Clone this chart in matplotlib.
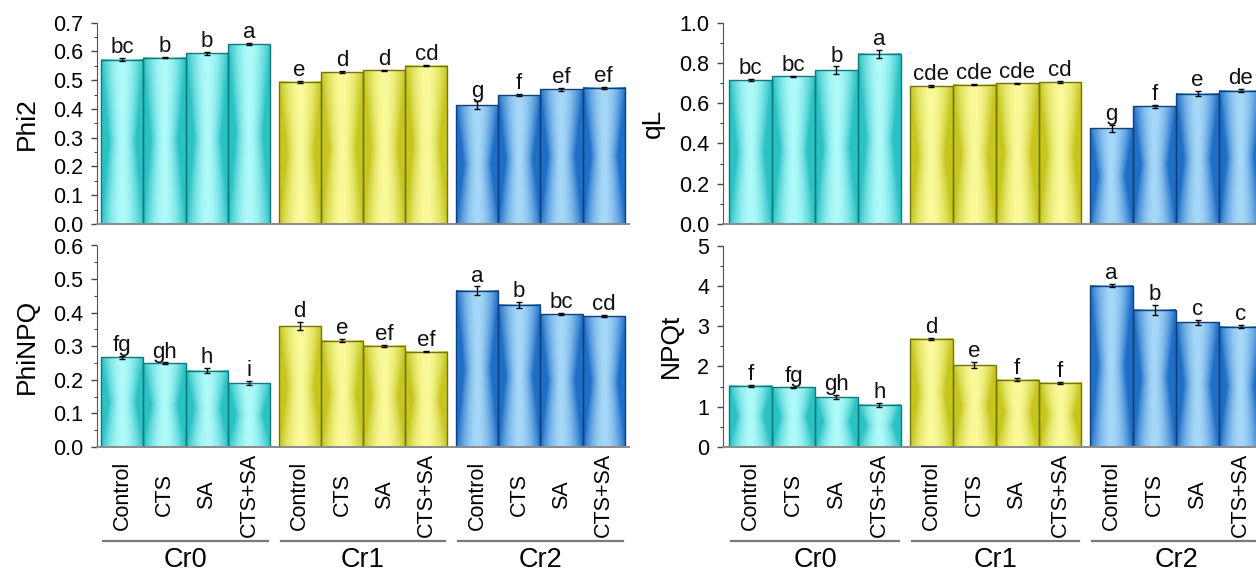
import matplotlib
matplotlib.use("Agg")
import matplotlib.pyplot as plt
import matplotlib.ticker as ticker
import matplotlib.transforms as mtransforms
import numpy as np

plt.rcParams["font.family"] = ["Liberation Sans", "DejaVu Sans"]

# ── Data ───────────────────────────────────────────────────────────────────────
GROUPS = ["Cr0", "Cr1", "Cr2"]
TREATMENTS = ["Control", "CTS", "SA", "CTS+SA"]

phi2 = [0.572, 0.578, 0.593, 0.625,
        0.495, 0.528, 0.535, 0.551,
        0.413, 0.448, 0.468, 0.473]
phi2_err = [0.005, 0.002, 0.006, 0.004,
            0.003, 0.003, 0.002, 0.001,
            0.013, 0.003, 0.004, 0.004]
phi2_sig = ["bc", "b", "b", "a", "e", "d", "d", "cd", "g", "f", "ef", "ef"]

ql = [0.715, 0.733, 0.765, 0.845,
      0.685, 0.692, 0.698, 0.705,
      0.475, 0.585, 0.648, 0.662]
ql_err = [0.004, 0.003, 0.018, 0.020,
          0.004, 0.003, 0.003, 0.004,
          0.018, 0.008, 0.014, 0.008]
ql_sig = ["bc", "bc", "b", "a", "cde", "cde", "cde", "cd", "g", "f", "e", "de"]

phinpq = [0.267, 0.249, 0.227, 0.190,
          0.360, 0.317, 0.301, 0.284,
          0.466, 0.424, 0.396, 0.389]
phinpq_err = [0.004, 0.003, 0.008, 0.006,
              0.012, 0.005, 0.002, 0.002,
              0.012, 0.009, 0.003, 0.003]
phinpq_sig = ["fg", "gh", "h", "i", "d", "e", "ef", "ef", "a", "b", "bc", "cd"]

npqt = [1.52, 1.48, 1.24, 1.05,
        2.68, 2.03, 1.67, 1.59,
        4.00, 3.40, 3.09, 2.99]
npqt_err = [0.02, 0.01, 0.05, 0.05,
            0.02, 0.08, 0.03, 0.03,
            0.04, 0.13, 0.07, 0.03]
npqt_sig = ["f", "fg", "gh", "h", "d", "e", "f", "f", "a", "b", "c", "c"]

# ── Style ──────────────────────────────────────────────────────────────────────
EDGE_FILL = ["#2BC2C4", "#C6C61E", "#1F6FC8"]     # dark side of gradient
LIGHT_FILL = ["#B0FAFA", "#FAFA9C", "#A6D8F8"]    # light centre
OUTLINE = ["#14787A", "#74740E", "#123F78"]
GROUP_STEP = 4.2


def _hex(c):
    c = c.lstrip("#")
    return np.array([int(c[i:i + 2], 16) / 255 for i in (0, 2, 4)])


def _gradient(edge, light, n=100):
    # light centre, darker sides; the light band pinches in at mid-height
    u = np.linspace(-0.5, 0.5, n)
    v = np.linspace(0, 1, n)
    U, V = np.meshgrid(u, v)
    w = 0.5 - 0.18 * (1 - np.abs(2 * V - 1))
    t = np.clip(1 - (np.abs(U) / w) ** 1.8, 0, 1)
    e, l = _hex(edge), _hex(light)
    return e + t[..., None] * (l - e)


GRADS = [_gradient(EDGE_FILL[g], LIGHT_FILL[g]) for g in range(3)]


def draw_panel(ax, vals, errs, sigs, ylabel, ymax, major, minor, fmt, xlim, bottom_row):
    for k, (h, e, s) in enumerate(zip(vals, errs, sigs)):
        g, i = divmod(k, 4)
        x0 = g * GROUP_STEP + i
        ax.imshow(GRADS[g], extent=(x0, x0 + 1, 0, h), origin="lower",
                  aspect="auto", interpolation="bilinear", zorder=1)
        ax.bar(x0 + 0.5, h, width=1, facecolor="none", edgecolor=OUTLINE[g],
               linewidth=1.0, zorder=2)
        ax.errorbar(x0 + 0.5, h, yerr=e, fmt="none", ecolor="black",
                    elinewidth=1.0, capsize=2.5, capthick=1.0, zorder=3)
        ax.annotate(s, (x0 + 0.5, h + e), xytext=(0, 3.5), textcoords="offset points",
                    ha="center", va="baseline", fontsize=16, color="#111111")

    ax.set_xlim(*xlim)
    ax.set_ylim(0, ymax)
    ax.yaxis.set_major_locator(ticker.MultipleLocator(major))
    ax.yaxis.set_minor_locator(ticker.MultipleLocator(minor))
    ax.yaxis.set_major_formatter(ticker.FormatStrFormatter(fmt))
    ax.tick_params(axis="y", which="major", direction="out", length=4, width=1,
                   labelsize=15.5, pad=6, color="#444444")
    ax.tick_params(axis="y", which="minor", direction="out", length=2.5, width=0.8,
                   color="#444444")
    ax.tick_params(axis="x", which="both", bottom=False, labelbottom=False)
    for side in ("top", "right"):
        ax.spines[side].set_visible(False)
    ax.spines["left"].set_color("#555555")
    ax.spines["bottom"].set_color("#8a8a8a")
    ax.spines["bottom"].set_linewidth(1.4)
    ax.set_ylabel(ylabel, fontsize=19, labelpad=10)

    if bottom_row:
        trans = mtransforms.blended_transform_factory(ax.transData, ax.transAxes)
        for k in range(12):
            g, i = divmod(k, 4)
            ax.text(g * GROUP_STEP + i + 0.5, -0.238, TREATMENTS[i], rotation=90,
                    ha="center", va="center", fontsize=15.5, transform=trans,
                    clip_on=False)
        for g, name in enumerate(GROUPS):
            x0 = g * GROUP_STEP
            ax.plot([x0 + 0.05, x0 + 3.95], [-0.466, -0.466], color="#7a7a7a",
                    linewidth=1.6, transform=trans, clip_on=False)
            ax.text(x0 + 2, -0.56, name, ha="center", va="center", fontsize=19.5,
                    transform=trans, clip_on=False)


# ── Figure layout ──────────────────────────────────────────────────────────────
fig = plt.figure(figsize=(12.56, 5.74), dpi=100)
LEFT_L, LEFT_W = 97 / 1256, 532 / 1256
RIGHT_L = 723 / 1256
RIGHT_W = 1 - RIGHT_L
TOP_B, TOP_H = 1 - 224 / 574, (224 - 22.7) / 574
BOT_B, BOT_H = 1 - 447 / 574, (447 - 245.5) / 574

ax_phi2 = fig.add_axes([LEFT_L, TOP_B, LEFT_W, TOP_H])
ax_ql = fig.add_axes([RIGHT_L, TOP_B, RIGHT_W, TOP_H])
ax_phinpq = fig.add_axes([LEFT_L, BOT_B, LEFT_W, BOT_H])
ax_npqt = fig.add_axes([RIGHT_L, BOT_B, RIGHT_W, BOT_H])

XL_LEFT = (-0.1, 12.5)
XL_RIGHT = (-0.14, 12.26)

draw_panel(ax_phi2, phi2, phi2_err, phi2_sig, "Phi2", 0.7, 0.1, 0.05, "%.1f", XL_LEFT, False)
draw_panel(ax_ql, ql, ql_err, ql_sig, "qL", 1.0, 0.2, 0.1, "%.1f", XL_RIGHT, False)
draw_panel(ax_phinpq, phinpq, phinpq_err, phinpq_sig, "PhiNPQ", 0.6, 0.1, 0.05, "%.1f", XL_LEFT, True)
draw_panel(ax_npqt, npqt, npqt_err, npqt_sig, "NPQt", 5, 1, 0.5, "%d", XL_RIGHT, True)

fig.savefig("out.png", dpi=100)
